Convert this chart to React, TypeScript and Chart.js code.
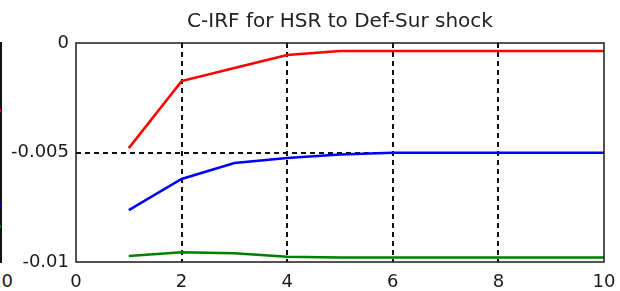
import React, { useEffect, useRef } from "react";
import { Chart, registerables } from "chart.js";

Chart.register(...registerables);

const titleText = "C-IRF for HSR to Def-Sur shock";
const periods = [1, 2, 3, 4, 5, 6, 7, 8, 9, 10];
const redSeries = [-0.0048, -0.00174, -0.00114, -0.00055, -0.00036, -0.00036, -0.00036, -0.00036, -0.00036, -0.00036];
const blueSeries = [-0.00763, -0.00621, -0.00548, -0.00525, -0.00509, -0.00501, -0.00501, -0.00501, -0.00501, -0.00501];
const greenSeries = [-0.00973, -0.00955, -0.0096, -0.00976, -0.0098, -0.0098, -0.0098, -0.0098, -0.0098, -0.0098];
const xTicks = [0, 2, 4, 6, 8, 10];
const yTicks = [0, -0.005, -0.01];
const yTickLabels = ["0", "-0.005", "-0.01"];
const xDashedAt = [2, 4, 6, 8];
const yDashedAt = [-0.005];

const FONT = "'DejaVu Sans', sans-serif";

const framePlugin = {
  id: "frame",
  afterDatasetsDraw(chart: any) {
    const { ctx, chartArea } = chart;
    ctx.save();
    ctx.strokeStyle = "#1a1a1a";
    ctx.lineWidth = 1.5;
    ctx.setLineDash([]);
    ctx.strokeRect(chartArea.left, chartArea.top, chartArea.right - chartArea.left, chartArea.bottom - chartArea.top);
    ctx.restore();
  },
};

export default function App() {
  const ref = useRef<HTMLCanvasElement | null>(null);

  useEffect(() => {
    if (!ref.current) return;
    const chart = new Chart(ref.current, {
      type: "line",
      data: {
        datasets: [
          {
            data: periods.map((p, i) => ({ x: p, y: redSeries[i] })),
            borderColor: "#ff0000",
            borderWidth: 2.5,
            pointRadius: 0,
            tension: 0,
          },
          {
            data: periods.map((p, i) => ({ x: p, y: blueSeries[i] })),
            borderColor: "#0000ff",
            borderWidth: 2.5,
            pointRadius: 0,
            tension: 0,
          },
          {
            data: periods.map((p, i) => ({ x: p, y: greenSeries[i] })),
            borderColor: "#008000",
            borderWidth: 2.5,
            pointRadius: 0,
            tension: 0,
          },
        ],
      },
      options: {
        animation: false,
        responsive: true,
        maintainAspectRatio: false,
        layout: { padding: { left: 0, right: 16, top: 0, bottom: 0 } },
        plugins: {
          legend: { display: false },
          tooltip: { enabled: false },
          title: {
            display: true,
            text: titleText,
            fullSize: false,
            color: "#222",
            font: { family: FONT, size: 20, weight: "normal", lineHeight: 1.2 },
            padding: { top: 10, bottom: 9 },
          },
        },
        scales: {
          x: {
            type: "linear",
            min: 0,
            max: 10,
            afterBuildTicks: (scale: any) => {
              scale.ticks = xTicks.map((v) => ({ value: v }));
            },
            afterFit: (scale: any) => {
              scale.height = 29;
              scale.paddingLeft = 0;
              scale.paddingRight = 0;
            },
            ticks: {
              color: "#1a1a1a",
              font: { family: FONT, size: 18 },
              padding: 10,
              maxRotation: 0,
              autoSkip: false,
            },
            grid: {
              drawTicks: false,
              lineWidth: 2,
              color: (ctx: any) => (ctx.tick && xDashedAt.includes(ctx.tick.value) ? "#111" : "rgba(0,0,0,0)"),
            },
            border: { display: false, dash: [5, 4] },
          },
          y: {
            type: "linear",
            min: -0.01,
            max: 0,
            afterBuildTicks: (scale: any) => {
              scale.ticks = yTicks.map((v) => ({ value: v }));
            },
            afterFit: (scale: any) => {
              scale.width = 76;
            },
            ticks: {
              color: "#1a1a1a",
              font: { family: FONT, size: 18 },
              padding: 7,
              autoSkip: false,
              callback: (value: any) => {
                const idx = yTicks.findIndex((t) => Math.abs(t - Number(value)) < 1e-9);
                return idx >= 0 ? yTickLabels[idx] : "";
              },
            },
            grid: {
              drawTicks: false,
              lineWidth: 2,
              color: (ctx: any) =>
                ctx.tick && yDashedAt.some((d) => Math.abs(d - ctx.tick.value) < 1e-9) ? "#111" : "rgba(0,0,0,0)",
            },
            border: { display: false, dash: [5, 4] },
          },
        },
      },
      plugins: [framePlugin],
    } as any);
    return () => chart.destroy();
  }, []);

  return (
    <div style={{ position: "fixed", left: 0, top: 0, width: 620, height: 291, background: "#fff", overflow: "hidden" }}>
      <div style={{ position: "absolute", left: 0, top: 42, width: 2, height: 221, background: "#111" }} />
      <div style={{ position: "absolute", left: 0, top: 109, width: 1, height: 3, background: "#ff0000" }} />
      <div style={{ position: "absolute", left: 0, top: 204, width: 1, height: 3, background: "#0000ff" }} />
      <div style={{ position: "absolute", left: 0, top: 225, width: 1, height: 3, background: "#008000" }} />
      <span
        style={{
          position: "absolute",
          left: -10,
          top: 272,
          fontFamily: FONT,
          fontSize: 18,
          lineHeight: "18px",
          color: "#1a1a1a",
          whiteSpace: "nowrap",
        }}
      >
        10
      </span>
      <div style={{ position: "absolute", left: 0, top: 0, width: 620, height: 291 }}>
        <canvas ref={ref} />
      </div>
    </div>
  );
}
